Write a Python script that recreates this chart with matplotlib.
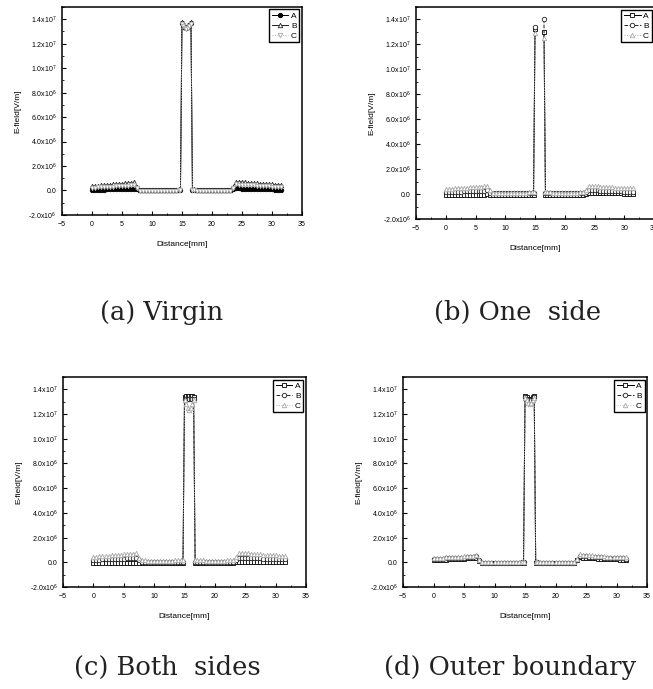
import numpy as np
import matplotlib.pyplot as plt
from matplotlib.ticker import MultipleLocator, FuncFormatter

plt.rcParams['font.family'] = ['Liberation Sans', 'DejaVu Sans']
plt.rcParams['mathtext.default'] = 'regular'

# distance along the sample [mm]
distance = [0, 0.5, 1, 1.5, 2, 2.5, 3, 3.5, 4, 4.5, 5, 5.5, 6, 6.5, 7, 7.5,
            8, 8.5, 9, 9.5, 10, 10.5, 11, 11.5, 12, 12.5, 13, 13.5, 14, 14.5,
            14.75, 15, 15.25, 15.5, 15.75, 16, 16.25, 16.5, 16.75,
            17, 17.5, 18, 18.5, 19, 19.5, 20, 20.5, 21, 21.5, 22, 22.5, 23, 23.5,
            24, 24.5, 25, 25.5, 26, 26.5, 27, 27.5, 28, 28.5, 29, 29.5, 30, 30.5, 31, 31.5]

nan = float('nan')

# E-field values in units of 10^6 V/m
# (a) Virgin
virgin_A = [0.05, 0.06, 0.06, 0.07, 0.08, 0.09, 0.09, 0.10, 0.11, 0.12, 0.12, 0.13, 0.14, 0.15, 0.16, 0.10,
            0.02, 0.02, 0.02, 0.02, 0.02, 0.02, 0.02, 0.02, 0.02, 0.02, 0.02, 0.02, 0.03, 0.04,
            0.05, 13.7, 13.5, 13.35, 13.3, 13.35, 13.5, 13.7, 0.05,
            0.04, 0.03, 0.02, 0.02, 0.02, 0.02, 0.02, 0.02, 0.02, 0.02, 0.02, 0.02, 0.02, 0.10,
            0.18, 0.17, 0.16, 0.16, 0.15, 0.14, 0.13, 0.13, 0.12, 0.11, 0.10, 0.10, 0.09, 0.08, 0.07, 0.06]
virgin_B = [0.36, 0.38, 0.40, 0.42, 0.44, 0.46, 0.48, 0.50, 0.52, 0.54, 0.56, 0.58, 0.60, 0.63, 0.66, 0.28,
            0.08, 0.07, 0.07, 0.06, 0.06, 0.06, 0.06, 0.06, 0.06, 0.06, 0.06, 0.07, 0.08, 0.10,
            0.12, 13.8, 13.6, 13.4, 13.35, 13.4, 13.6, 13.8, 0.12,
            0.10, 0.08, 0.07, 0.06, 0.06, 0.06, 0.06, 0.06, 0.06, 0.06, 0.07, 0.07, 0.08, 0.30,
            0.72, 0.70, 0.68, 0.66, 0.64, 0.62, 0.60, 0.58, 0.56, 0.55, 0.53, 0.52, 0.50, 0.49, 0.47, 0.46]
virgin_C = [0.22, 0.23, 0.25, 0.26, 0.28, 0.29, 0.31, 0.32, 0.34, 0.35, 0.37, 0.38, 0.40, 0.42, 0.44, 0.20,
            -0.04, -0.04, -0.04, -0.04, -0.04, -0.04, -0.04, -0.04, -0.04, -0.04, -0.04, -0.03, -0.02, 0.00,
            0.02, 13.6, 13.45, 13.3, 13.2, 13.3, 13.45, 13.6, 0.02,
            0.00, -0.02, -0.03, -0.04, -0.04, -0.04, -0.04, -0.04, -0.04, -0.04, -0.04, -0.04, -0.04, 0.22,
            0.50, 0.48, 0.47, 0.45, 0.44, 0.42, 0.41, 0.39, 0.38, 0.36, 0.35, 0.34, 0.32, 0.31, 0.30, 0.28]

# (b) One side
one_A = [-0.08, -0.08, -0.07, -0.07, -0.07, -0.06, -0.06, -0.06, -0.05, -0.05, -0.05, -0.04, -0.04, -0.04, -0.03, -0.05,
         -0.08, -0.08, -0.08, -0.08, -0.08, -0.08, -0.08, -0.08, -0.08, -0.08, -0.08, -0.08, -0.07, -0.06,
         -0.05, 13.2, nan, nan, nan, nan, nan, 13.0, -0.05,
         -0.06, -0.07, -0.08, -0.08, -0.08, -0.08, -0.08, -0.08, -0.08, -0.08, -0.08, -0.08, -0.08, 0.02,
         0.10, 0.10, 0.09, 0.09, 0.08, 0.08, 0.07, 0.07, 0.06, 0.06, 0.05, 0.05, 0.04, 0.04, 0.03, 0.03]
one_B = [0.15, 0.16, 0.17, 0.18, 0.19, 0.20, 0.21, 0.22, 0.23, 0.24, 0.25, 0.26, 0.27, 0.28, 0.30, 0.12,
         0.05, 0.05, 0.05, 0.05, 0.05, 0.05, 0.05, 0.05, 0.05, 0.05, 0.05, 0.06, 0.07, 0.08,
         0.10, 13.4, nan, nan, nan, nan, nan, 14.0, 0.10,
         0.08, 0.07, 0.06, 0.05, 0.05, 0.05, 0.05, 0.05, 0.05, 0.05, 0.05, 0.05, 0.06, 0.15,
         0.32, 0.31, 0.30, 0.29, 0.28, 0.27, 0.26, 0.25, 0.24, 0.23, 0.22, 0.21, 0.20, 0.19, 0.18, 0.17]
one_C = [0.40, 0.42, 0.44, 0.46, 0.48, 0.50, 0.51, 0.52, 0.54, 0.55, 0.56, 0.58, 0.60, 0.62, 0.65, 0.30,
         0.12, 0.12, 0.11, 0.11, 0.11, 0.11, 0.11, 0.11, 0.11, 0.11, 0.11, 0.12, 0.13, 0.15,
         0.18, 12.9, nan, nan, nan, nan, nan, 12.5, 0.18,
         0.15, 0.13, 0.12, 0.11, 0.11, 0.11, 0.11, 0.11, 0.11, 0.11, 0.12, 0.14, 0.16, 0.35,
         0.68, 0.66, 0.64, 0.62, 0.60, 0.58, 0.56, 0.55, 0.53, 0.52, 0.50, 0.49, 0.48, 0.47, 0.46, 0.45]

# (c) Both sides
both_A = [-0.04, -0.04, -0.04, -0.04, -0.04, -0.04, -0.04, -0.04, -0.04, -0.04, -0.04, -0.04, -0.04, -0.03, -0.03, -0.04,
          -0.04, -0.04, -0.04, -0.04, -0.04, -0.04, -0.04, -0.04, -0.04, -0.04, -0.04, -0.04, -0.04, -0.03,
          -0.03, 13.4, 13.45, 13.45, 13.45, 13.45, 13.45, 13.4, -0.03,
          -0.03, -0.04, -0.04, -0.04, -0.04, -0.04, -0.04, -0.04, -0.04, -0.04, -0.04, -0.04, -0.04, 0.00,
          0.06, 0.06, 0.06, 0.05, 0.05, 0.05, 0.05, 0.04, 0.04, 0.04, 0.04, 0.03, 0.03, 0.03, 0.03, 0.03]
both_B = [0.20, 0.21, 0.22, 0.23, 0.24, 0.25, 0.26, 0.27, 0.28, 0.29, 0.30, 0.31, 0.32, 0.33, 0.35, 0.15,
          0.03, 0.03, 0.03, 0.03, 0.03, 0.03, 0.03, 0.03, 0.03, 0.03, 0.03, 0.03, 0.04, 0.04,
          0.05, 13.2, 13.25, 13.25, 13.25, 13.25, 13.25, 13.2, 0.05,
          0.04, 0.04, 0.03, 0.03, 0.03, 0.03, 0.03, 0.03, 0.03, 0.03, 0.03, 0.03, 0.03, 0.18,
          0.38, 0.37, 0.36, 0.35, 0.34, 0.33, 0.32, 0.31, 0.30, 0.29, 0.28, 0.27, 0.26, 0.25, 0.24, 0.23]
both_C = [0.45, 0.47, 0.49, 0.51, 0.53, 0.55, 0.57, 0.59, 0.61, 0.63, 0.65, 0.67, 0.69, 0.71, 0.74, 0.35,
          0.15, 0.15, 0.14, 0.14, 0.14, 0.14, 0.14, 0.14, 0.14, 0.14, 0.14, 0.15, 0.16, 0.18,
          0.20, 13.1, 12.8, 12.5, 12.3, 12.5, 12.8, 13.1, 0.20,
          0.18, 0.16, 0.15, 0.14, 0.14, 0.14, 0.14, 0.14, 0.14, 0.14, 0.15, 0.15, 0.16, 0.40,
          0.78, 0.76, 0.74, 0.72, 0.70, 0.68, 0.66, 0.64, 0.62, 0.61, 0.59, 0.58, 0.56, 0.55, 0.53, 0.52]

# (d) Outer boundary
outer_A = [0.18, 0.19, 0.20, 0.21, 0.22, 0.24, 0.25, 0.26, 0.28, 0.29, 0.30, 0.32, 0.33, 0.35, 0.38, 0.12,
           -0.05, -0.05, -0.05, -0.05, -0.05, -0.05, -0.05, -0.05, -0.05, -0.05, -0.05, -0.05, -0.05, -0.05,
           -0.04, 13.5, 13.35, 13.2, 13.15, 13.2, 13.35, 13.5, -0.04,
           -0.05, -0.05, -0.05, -0.05, -0.05, -0.05, -0.05, -0.05, -0.05, -0.05, -0.05, -0.05, -0.05, 0.15,
           0.40, 0.38, 0.36, 0.35, 0.33, 0.32, 0.30, 0.29, 0.28, 0.26, 0.25, 0.24, 0.23, 0.22, 0.21, 0.20]
outer_B = [0.26, 0.27, 0.28, 0.30, 0.31, 0.32, 0.34, 0.35, 0.36, 0.38, 0.39, 0.40, 0.42, 0.44, 0.48, 0.15,
           -0.02, -0.02, -0.02, -0.02, -0.02, -0.02, -0.02, -0.02, -0.02, -0.02, -0.02, -0.02, -0.02, -0.01,
           0.00, 13.4, 13.25, 13.1, 13.0, 13.1, 13.25, 13.4, 0.00,
           -0.01, -0.02, -0.02, -0.02, -0.02, -0.02, -0.02, -0.02, -0.02, -0.02, -0.02, -0.02, -0.02, 0.20,
           0.52, 0.50, 0.48, 0.47, 0.45, 0.43, 0.42, 0.40, 0.39, 0.37, 0.36, 0.35, 0.33, 0.32, 0.31, 0.30]
outer_C = [0.34, 0.35, 0.37, 0.38, 0.40, 0.41, 0.43, 0.44, 0.46, 0.47, 0.49, 0.50, 0.52, 0.55, 0.60, 0.20,
           0.01, 0.01, 0.01, 0.01, 0.01, 0.01, 0.01, 0.01, 0.01, 0.01, 0.01, 0.01, 0.02, 0.02,
           0.03, 13.3, 13.1, 12.9, 12.8, 12.9, 13.1, 13.3, 0.03,
           0.02, 0.02, 0.01, 0.01, 0.01, 0.01, 0.01, 0.01, 0.01, 0.01, 0.01, 0.01, 0.01, 0.25,
           0.65, 0.62, 0.60, 0.58, 0.56, 0.54, 0.52, 0.50, 0.49, 0.47, 0.46, 0.44, 0.43, 0.42, 0.41, 0.40]

series_names = ["A", "B", "C"]
captions = ["(a) Virgin", "(b) One  side", "(c) Both  sides", "(d) Outer boundary"]


def sci_label(v, pos):
    if abs(v) < 1:
        return "0.0"
    e = int(np.floor(np.log10(abs(v))))
    m = v / 10 ** e
    return f"{m:.1f}x10$^{{{e}}}$"


fig = plt.figure(figsize=(6.53, 6.89), dpi=100)

rects = [
    [0.0949, 0.6880, 0.3675, 0.3019],
    [0.6371, 0.6821, 0.3645, 0.3077],
    [0.0965, 0.1480, 0.3721, 0.3048],
    [0.6172, 0.1480, 0.3737, 0.3048],
]
caption_pos = [(0.247, 0.546), (0.793, 0.546), (0.257, 0.031), (0.781, 0.031)]

data = [
    (virgin_A, virgin_B, virgin_C),
    (one_A, one_B, one_C),
    (both_A, both_B, both_C),
    (outer_A, outer_B, outer_C),
]

style_virgin = [
    dict(color="black", ls="-", marker="o", mfc="black", mec="black"),
    dict(color="#222222", ls="-", marker="^", mfc="white", mec="#222222"),
    dict(color="#b0b0b0", ls=":", marker="v", mfc="white", mec="#a8a8a8"),
]
style_other = [
    dict(color="black", ls="-", marker="s", mfc="white", mec="black"),
    dict(color="#222222", ls="--", marker="o", mfc="white", mec="#222222"),
    dict(color="#b0b0b0", ls=":", marker="^", mfc="white", mec="#a8a8a8"),
]

for i in range(4):
    ax = fig.add_axes(rects[i])
    styles = style_virgin if i == 0 else style_other
    for name, vals, st in zip(series_names, data[i], styles):
        y = np.array(vals) * 1e6
        ax.plot(distance, y, label=name, lw=0.7, ms=3.2, mew=0.6,
                color=st["color"], ls=st["ls"], marker=st["marker"],
                mfc=st["mfc"], mec=st["mec"])

    ax.set_xlim(-5, 35)
    ax.set_ylim(-2e6, 1.5e7)
    ax.xaxis.set_major_locator(MultipleLocator(5))
    ax.xaxis.set_minor_locator(MultipleLocator(2.5))
    ax.yaxis.set_major_locator(MultipleLocator(2e6))
    ax.yaxis.set_minor_locator(MultipleLocator(1e6))
    ax.yaxis.set_major_formatter(FuncFormatter(sci_label))
    ax.tick_params(which="major", direction="in", length=3, width=0.8, labelsize=5, pad=4)
    ax.tick_params(which="minor", direction="in", length=1.5, width=0.6)
    for sp in ax.spines.values():
        sp.set_linewidth(1.1)

    ax.set_xlabel("Distance[mm]", fontsize=6, labelpad=10)
    ax.set_ylabel("E-field[V/m]", fontsize=6, labelpad=5)

    leg = ax.legend(loc="upper right", fontsize=6, frameon=True, fancybox=False,
                    handlelength=2.0, handletextpad=0.3, labelspacing=0.25,
                    borderpad=0.3, borderaxespad=0.3)
    leg.get_frame().set_edgecolor("black")
    leg.get_frame().set_linewidth(1.0)
    leg.get_frame().set_alpha(1)

    fig.text(caption_pos[i][0], caption_pos[i][1], captions[i],
             ha="center", va="center", fontsize=18.5,
             family=["DejaVu Serif"], color="#222222")

plt.savefig("out.png", dpi=100)
